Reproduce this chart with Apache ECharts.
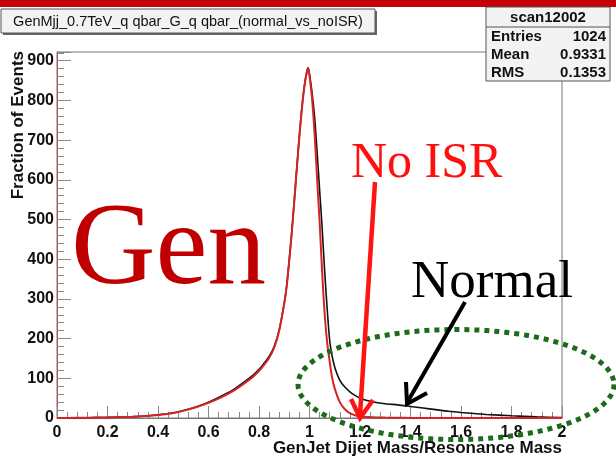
<!DOCTYPE html>
<html>
<head>
<meta charset="utf-8">
<script src="https://cdn.jsdelivr.net/npm/echarts@6/dist/echarts.min.js"></script>
<style>
  html, body { margin: 0; padding: 0; background: #fff; }
  #chart { width: 616px; height: 458px; }
</style>
</head>
<body>
<div id="chart"></div>
<script>
// GenJet dijet mass / resonance mass bin centres
const massRatio = [
  0, 0.05, 0.1, 0.15, 0.2, 0.25, 0.3, 0.35, 0.4, 0.45,
  0.5, 0.55, 0.6, 0.65, 0.7, 0.75, 0.78, 0.81, 0.84, 0.86,
  0.88, 0.9, 0.91, 0.92, 0.93, 0.94, 0.95, 0.96, 0.97, 0.98,
  0.99, 0.995, 1.0, 1.01, 1.02, 1.03, 1.04, 1.05, 1.06, 1.07,
  1.08, 1.09, 1.1, 1.12, 1.14, 1.16, 1.18, 1.2, 1.25, 1.3,
  1.35, 1.4, 1.45, 1.5, 1.55, 1.6, 1.7, 1.8, 1.9, 2.0
];

// Normal generation (with ISR)
const normalEvents = [
  0, 0.3, 0.5, 1, 1.5, 2.5, 3.5, 5, 8, 12,
  19, 28, 40, 55, 72, 95, 110, 130, 155, 180,
  222, 290, 335, 400, 470, 550, 632, 712, 782, 838,
  875, 882, 866, 820, 760, 672, 575, 480, 370, 275,
  195, 155, 128, 95, 78, 66, 57, 50, 41, 36,
  33, 29, 25, 21, 17, 14, 9, 5.5, 3, 1
];

// Generation without initial state radiation
const noIsrEvents = [
  0, 0.3, 0.5, 1, 1.5, 2.3, 3.3, 5, 7.5, 11.5,
  18, 27, 38, 52, 69, 91, 106, 126, 151, 177,
  220, 288, 333, 398, 468, 548, 630, 710, 780, 836,
  873, 880, 862, 805, 718, 605, 495, 368, 262, 190,
  142, 100, 74, 40, 22, 12, 7, 4, 2, 1,
  0.5, 0.3, 0.2, 0.1, 0, 0, 0, 0, 0, 0
];

const histTitle = 'GenMjj_0.7TeV_q qbar_G_q qbar_(normal_vs_noISR)';
const xTitle = 'GenJet Dijet Mass/Resonance Mass';
const yTitle = 'Fraction of Events';
const statsName = 'scan12002';
const statsLabels = ['Entries', 'Mean', 'RMS'];
const statsValues = ['1024', '0.9331', '0.1353'];

const yMax = 922;
const sans = '"Liberation Sans", Arial, Helvetica, sans-serif';
const serif = '"Liberation Serif", "Times New Roman", serif';

const toPairs = (xs, ys) => xs.map((x, i) => [x, ys[i]]);

const tickFont = { fontFamily: sans, fontWeight: 'bold', fontSize: 16, color: '#111' };

// dotted outline around the high-mass tail
const ringPts = [];
for (let k = 0; k < 160; k++) {
  const t = (k / 160) * Math.PI * 2;
  ringPts.push([456 + 158 * Math.cos(t), 384.5 + 55 * Math.sin(t)]);
}

// stats pave rows
const statsGraphics = [];
statsLabels.forEach((lab, i) => {
  const cy = 37 + i * 18;
  statsGraphics.push({
    type: 'text', x: 491, y: cy, z: 102,
    style: { text: lab, fontFamily: sans, fontWeight: 'bold', fontSize: 15, fill: '#111', align: 'left', verticalAlign: 'middle' }
  });
  statsGraphics.push({
    type: 'text', x: 606, y: cy, z: 102,
    style: { text: statsValues[i], fontFamily: sans, fontWeight: 'bold', fontSize: 15, fill: '#111', align: 'right', verticalAlign: 'middle' }
  });
});

const chart = echarts.init(document.getElementById('chart'), null, { renderer: 'canvas' });

chart.setOption({
  animation: false,
  backgroundColor: '#fff',
  grid: {
    left: 57, right: 54, top: 52, bottom: 40,
    show: true, borderColor: '#777', borderWidth: 1, backgroundColor: '#fff',
    outerBoundsMode: 'none'
  },
  xAxis: {
    type: 'value', min: 0, max: 2, interval: 0.2,
    axisLine: { show: true, onZero: false, lineStyle: { color: '#777' } },
    axisTick: { show: true, inside: true, length: 12, lineStyle: { color: '#888' } },
    minorTick: { show: true, splitNumber: 5, length: 6, lineStyle: { color: '#888' } },
    axisLabel: Object.assign({ margin: 7 }, tickFont),
    splitLine: { show: false }
  },
  yAxis: [
    {
      type: 'value', min: 0, max: yMax, interval: 100,
      axisLine: { show: true, onZero: false, lineStyle: { color: '#777' } },
      axisTick: { show: true, inside: true, length: 14, lineStyle: { color: '#888' } },
      minorTick: { show: true, splitNumber: 5, length: 7, lineStyle: { color: '#888' } },
      axisLabel: Object.assign({
        margin: 3,
        formatter: v => (v % 100 === 0 ? String(v) : '')
      }, tickFont),
      splitLine: { show: false }
    },
    {
      type: 'value', min: 0, max: yMax, position: 'right',
      axisLine: { show: true, lineStyle: { color: '#c04848', width: 1 } },
      axisTick: { show: false }, axisLabel: { show: false }, splitLine: { show: false }
    }
  ],
  series: [
    {
      name: 'Normal', type: 'line', yAxisIndex: 0,
      data: toPairs(massRatio, normalEvents),
      showSymbol: false, smooth: 0.25, z: 3,
      lineStyle: { color: '#111', width: 1.6 }
    },
    {
      name: 'No ISR', type: 'line', yAxisIndex: 0,
      data: toPairs(massRatio, noIsrEvents),
      showSymbol: false, smooth: 0.25, z: 4,
      lineStyle: { color: '#d42424', width: 2 }
    }
  ],
  graphic: [
    // red banner strip
    { type: 'rect', z: 100, shape: { x: 0, y: 0, width: 616, height: 7 }, style: { fill: '#c4000a' } },
    // histogram title pave
    { type: 'rect', z: 100, shape: { x: 3, y: 11, width: 374, height: 24 }, style: { fill: '#666' } },
    { type: 'rect', z: 101, shape: { x: 1, y: 9, width: 374, height: 24 }, style: { fill: '#f3f3f3', stroke: '#555', lineWidth: 1 } },
    { type: 'text', z: 102, x: 188, y: 21.5,
      style: { text: histTitle, fontFamily: sans, fontSize: 14.5, fill: '#111', align: 'center', verticalAlign: 'middle' } },
    // stats pave
    { type: 'rect', z: 100, shape: { x: 486, y: 7, width: 124, height: 74 }, style: { fill: '#f3f3f3', stroke: '#555', lineWidth: 1 } },
    { type: 'line', z: 101, shape: { x1: 486, y1: 27, x2: 610, y2: 27 }, style: { stroke: '#555', lineWidth: 1 } },
    { type: 'text', z: 102, x: 548, y: 18,
      style: { text: statsName, fontFamily: sans, fontWeight: 'bold', fontSize: 15, fill: '#111', align: 'center', verticalAlign: 'middle' } },
    ...statsGraphics,
    // axis titles
    { type: 'text', z: 102, x: 18, y: 51, rotation: Math.PI / 2,
      style: { text: yTitle, fontFamily: sans, fontWeight: 'bold', fontSize: 17, fill: '#111', align: 'right', verticalAlign: 'middle' } },
    { type: 'text', z: 102, x: 562, y: 448,
      style: { text: xTitle, fontFamily: sans, fontWeight: 'bold', fontSize: 17, fill: '#111', align: 'right', verticalAlign: 'middle' } },
    // annotations
    { type: 'text', z: 110, x: 71, y: 194,
      style: { text: 'Gen', fontFamily: serif, fontSize: 117, fill: '#c00000', align: 'left', verticalAlign: 'top' } },
    { type: 'text', z: 110, x: 351, y: 139,
      style: { text: 'No ISR', fontFamily: serif, fontSize: 50, fill: '#ff1010', align: 'left', verticalAlign: 'top' } },
    { type: 'text', z: 110, x: 411, y: 257,
      style: { text: 'Normal', fontFamily: serif, fontSize: 53, fill: '#000', align: 'left', verticalAlign: 'top' } },
    { type: 'polygon', z: 105, shape: { points: ringPts },
      style: { fill: null, stroke: '#1b6b1b', lineWidth: 5, lineDash: [5, 5] } },
    { type: 'line', z: 111, shape: { x1: 375, y1: 182, x2: 360, y2: 415 },
      style: { stroke: '#ff1414', lineWidth: 4.5 } },
    { type: 'polyline', z: 111, shape: { points: [[351, 399], [360, 418], [373, 400]] },
      style: { stroke: '#ff1414', lineWidth: 4.5, fill: null, lineJoin: 'miter' } },
    { type: 'line', z: 111, shape: { x1: 465, y1: 302, x2: 408, y2: 401 },
      style: { stroke: '#000', lineWidth: 4 } },
    { type: 'polyline', z: 111, shape: { points: [[406, 382], [407, 404], [427, 393]] },
      style: { stroke: '#000', lineWidth: 4, fill: null, lineJoin: 'miter' } }
  ]
});
</script>
</body>
</html>
